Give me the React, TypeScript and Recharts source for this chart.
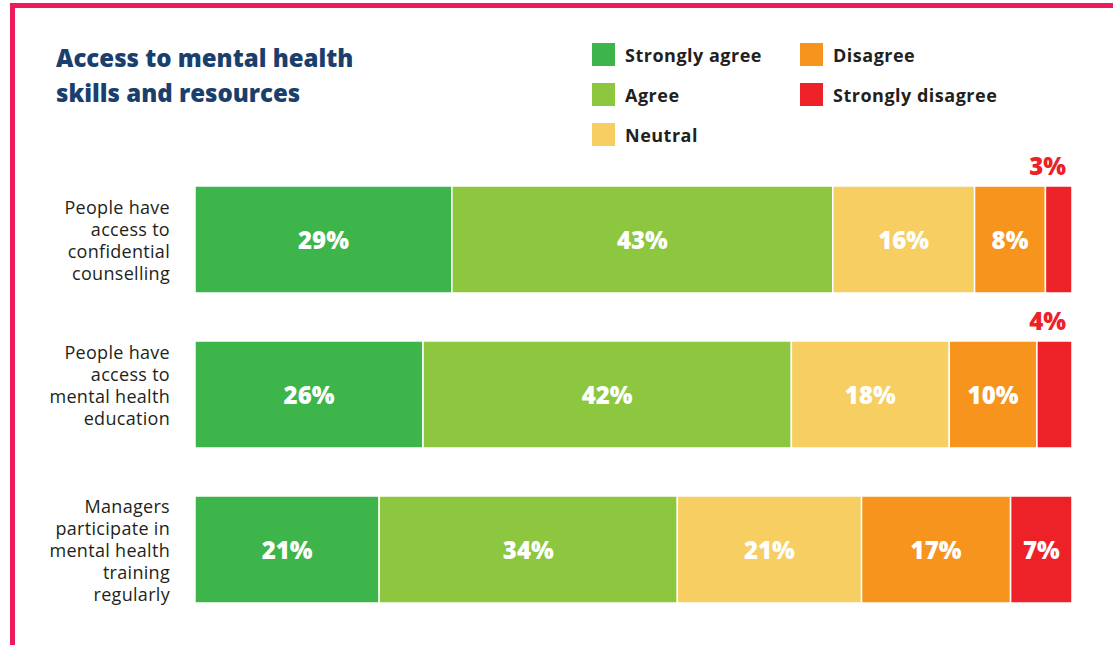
import React from 'react';
import { BarChart, Bar, XAxis, YAxis, LabelList } from 'recharts';

const categories = [
  'People have\naccess to\nconfidential\ncounselling',
  'People have\naccess to\nmental health\neducation',
  'Managers\nparticipate in\nmental health\ntraining\nregularly',
];
const stronglyAgree = [29, 26, 21];
const agree = [43, 42, 34];
const neutral = [16, 18, 21];
const disagree = [8, 10, 17];
const stronglyDisagree = [3, 4, 7];

const seriesNames = ['Strongly agree', 'Agree', 'Neutral', 'Disagree', 'Strongly disagree'];
const seriesKeys = ['sa', 'a', 'n', 'd', 'sd'];
const seriesColors = ['#3DB54A', '#8DC63F', '#F6CE61', '#F7941E', '#ED2128'];
const seriesValues = [stronglyAgree, agree, neutral, disagree, stronglyDisagree];
const labelShift = [0, -10, 0];

const data = categories.map((c, i) => {
  const row: any = { name: c };
  seriesKeys.forEach((k, j) => {
    row[k] = seriesValues[j][i];
  });
  return row;
});

const FONT = '"Open Sans", "DejaVu Sans", sans-serif';

const CategoryTick = (props: any) => {
  const { x, y, payload, index } = props;
  const lines = String(payload.value).split('\n');
  const lh = 22;
  const start = y + (labelShift[index] || 0) - ((lines.length - 1) * lh) / 2;
  return (
    <text x={x} y={start} textAnchor="end" fontFamily={FONT} fontSize={18} fill="#231F20" letterSpacing={0.3}>
      {lines.map((l, i) => (
        <tspan key={i} x={x} y={start + i * lh} dominantBaseline="central">
          {l}
        </tspan>
      ))}
    </text>
  );
};

const makeLabel = (color: string) => (props: any) => {
  const { x, y, width, height, value } = props;
  if (value == null) return null;
  if (value < 5) {
    return (
      <text
        x={x + width - 6}
        y={y - 21}
        textAnchor="end"
        dominantBaseline="central"
        fontFamily={FONT}
        fontWeight={800}
        fontSize={24}
        fill={color}
      >
        {value}%
      </text>
    );
  }
  return (
    <text
      x={x + width / 2}
      y={y + height / 2}
      textAnchor="middle"
      dominantBaseline="central"
      fontFamily={FONT}
      fontWeight={800}
      fontSize={24}
      fill="#FFFFFF"
    >
      {value}%
    </text>
  );
};

const legendRows = [
  [0, 3],
  [1, 4],
  [2],
];

export default function App() {
  return (
    <div
      style={{
        position: 'absolute',
        left: 0,
        top: 0,
        width: 1113,
        height: 645,
        overflow: 'hidden',
        background: '#FFFFFF',
      }}
    >
      <div
        style={{
          position: 'absolute',
          left: 10,
          top: 3,
          width: 1108,
          height: 700,
          border: '5px solid #EC1C5B',
          boxSizing: 'border-box',
        }}
      />
      <div
        style={{
          position: 'absolute',
          left: 56,
          top: 40,
          fontFamily: FONT,
          fontWeight: 800,
          fontSize: 24,
          lineHeight: '35px',
          color: '#1B3F6D',
        }}
      >
        Access to mental health
        <br />
        skills and resources
      </div>
      {legendRows.map((row, r) =>
        row.map((si, c) => (
          <div
            key={si}
            style={{
              position: 'absolute',
              left: c === 0 ? 592 : 800,
              top: 43 + r * 40,
              height: 23,
              display: 'flex',
              alignItems: 'center',
              fontFamily: FONT,
              fontWeight: 700,
              fontSize: 18,
              letterSpacing: 0.5,
              color: '#231F20',
              whiteSpace: 'nowrap',
            }}
          >
            <span
              style={{
                display: 'inline-block',
                width: 23,
                height: 23,
                background: seriesColors[si],
                marginRight: 10,
              }}
            />
            {seriesNames[si]}
          </div>
        ))
      )}
      <div style={{ position: 'absolute', left: 0, top: 0 }}>
        <BarChart
          width={1113}
          height={645}
          data={data}
          layout="vertical"
          stackOffset="expand"
          margin={{ top: 162, right: 41, bottom: 18, left: 0 }}
          barSize={107}
        >
          <XAxis type="number" hide domain={[0, 1]} />
          <YAxis
            type="category"
            dataKey="name"
            width={195}
            axisLine={false}
            tickLine={false}
            tickMargin={19}
            tick={<CategoryTick />}
            interval={0}
          />
          {seriesKeys.map((k, j) => (
            <Bar
              key={k}
              dataKey={k}
              name={seriesNames[j]}
              stackId="s"
              fill={seriesColors[j]}
              stroke="#FFFFFF"
              strokeWidth={1.5}
              isAnimationActive={false}
            >
              <LabelList dataKey={k} content={makeLabel(seriesColors[j])} />
            </Bar>
          ))}
        </BarChart>
      </div>
    </div>
  );
}
